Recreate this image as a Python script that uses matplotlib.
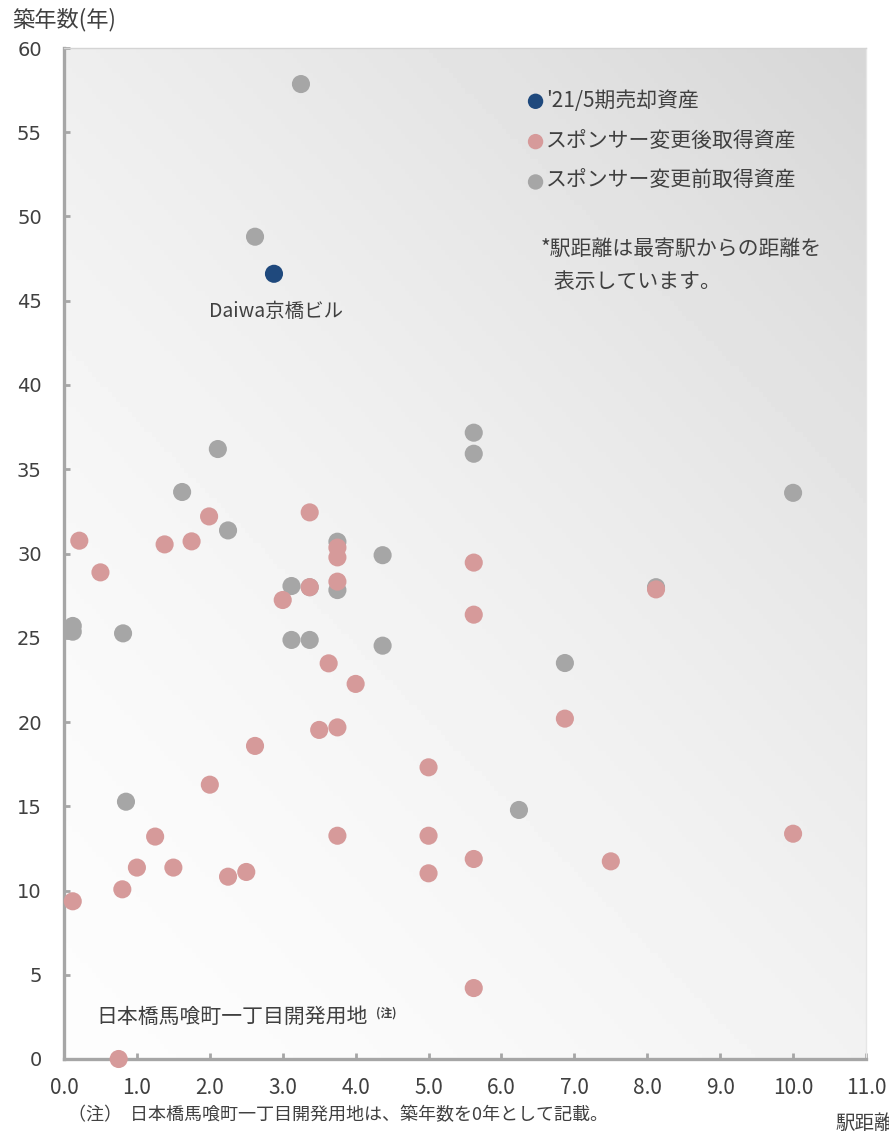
import matplotlib
matplotlib.use("Agg")
import matplotlib.pyplot as plt
import numpy as np

plt.rcParams['font.family'] = ['Noto Sans CJK JP', 'DejaVu Sans']

# Data (x: 駅距離, y: 築年数)
sold_x = [2.88]
sold_y = [46.6]

after_x = [0.21, 0.5, 1.38, 1.75, 1.99, 3.37, 3.75, 3.75, 3.75, 3.37, 3.0,
           5.62, 5.62, 3.63, 4.0, 3.5, 3.75, 2.62, 2.0, 5.0, 6.87, 8.12,
           10.0, 7.5, 5.62, 5.0, 5.0, 3.75, 1.25, 1.0, 1.5, 0.8, 2.25, 2.5,
           0.12, 5.62, 0.75]
after_y = [30.76, 28.88, 30.54, 30.72, 32.2, 32.44, 30.35, 29.77, 28.33, 28.0, 27.24,
           29.46, 26.37, 23.48, 22.26, 19.53, 19.68, 18.58, 16.28, 17.31, 20.2, 27.87,
           13.37, 11.73, 11.87, 13.25, 11.02, 13.25, 13.2, 11.36, 11.36, 10.07, 10.82, 11.1,
           9.36, 4.21, 0.0]

before_x = [3.25, 2.62, 2.11, 1.62, 2.25, 5.62, 5.62, 10.0, 3.75, 4.37, 3.12,
            3.37, 3.75, 3.12, 3.37, 4.37, 0.12, 0.12, 0.81, 8.12, 6.87, 0.85, 6.24]
before_y = [57.86, 48.8, 36.2, 33.65, 31.37, 37.17, 35.92, 33.6, 30.7, 29.9, 28.07,
            28.0, 27.83, 24.87, 24.87, 24.53, 25.7, 25.36, 25.26, 28.0, 23.5, 15.27, 14.78]

x_ticks = np.arange(0, 12, 1)
y_ticks = np.arange(0, 65, 5)

C_SOLD = '#1f497d'
C_AFTER = '#d69a9a'
C_BEFORE = '#a6a6a6'
C_TEXT = '#404040'
C_AXIS = '#a6a6a6'

fig = plt.figure(figsize=(8.89, 11.33), dpi=100)
ax = fig.add_axes([64 / 889, 1 - 1059 / 1133, 802 / 889, (1059 - 48) / 1133])

# background gradient: white lower-left to light gray upper-right
u, v = np.meshgrid(np.linspace(0, 1, 200), np.linspace(0, 1, 200))
s = 0.45 * u + 0.55 * v
grad = 0.99 - 0.15 * s ** 1.6
ax.imshow(grad, extent=[0, 1, 0, 1], transform=ax.transAxes, origin='lower',
          aspect='auto', cmap='gray', vmin=0, vmax=1, zorder=0)

ms = 170
ax.scatter(before_x, before_y, s=ms, color=C_BEFORE, edgecolors='none',
           label='スポンサー変更前取得資産', zorder=3, clip_on=False)
ax.scatter(after_x, after_y, s=ms, color=C_AFTER, edgecolors='none',
           label='スポンサー変更後取得資産', zorder=4, clip_on=False)
ax.scatter(sold_x, sold_y, s=ms, color=C_SOLD, edgecolors='none',
           label="'21/5期売却資産", zorder=5, clip_on=False)

ax.set_xlim(0, 11)
ax.set_ylim(0, 60)
ax.set_xticks(x_ticks)
ax.set_xticklabels([f'{t:.1f}' for t in x_ticks], fontsize=15)
ax.set_yticks(y_ticks)
ax.set_yticklabels([str(t) for t in y_ticks], fontsize=14, family='DejaVu Sans')
ax.tick_params(axis='both', direction='in', length=4, width=2, color=C_AXIS,
               labelcolor=C_TEXT)
ax.tick_params(axis='x', pad=13)
ax.tick_params(axis='y', pad=16)

for side in ['left', 'bottom']:
    ax.spines[side].set_color(C_AXIS)
    ax.spines[side].set_linewidth(2.4)
ax.spines['top'].set_color('#d4d4d4')
ax.spines['top'].set_linewidth(1)
ax.spines['right'].set_color('#e6e6e6')
ax.spines['right'].set_linewidth(1)

# legend (order: sold, after, before)
handles, labels = ax.get_legend_handles_labels()
order = [2, 1, 0]
leg = ax.legend([handles[i] for i in order], [labels[i] for i in order],
                loc='upper left', bbox_to_anchor=(0.562, 0.969), frameon=False,
                fontsize=15, handletextpad=0.0, handlelength=1.0, markerscale=0.85,
                labelspacing=0.88, borderpad=0)
for t in leg.get_texts():
    t.set_color(C_TEXT)

ax.text(0.594, 0.812, '*駅距離は最寄駅からの距離を\n   表示しています。',
        transform=ax.transAxes, fontsize=15, color=C_TEXT, ha='left', va='top',
        linespacing=1.65)

# point annotations
ax.annotate('Daiwa京橋ビル', xy=(sold_x[0], sold_y[0]), xytext=(1.5, -27),
            textcoords='offset points', ha='center', va='center',
            fontsize=14, color=C_TEXT)
ax.annotate('日本橋馬喰町一丁目開発用地', xy=(after_x[-1], after_y[-1]),
            xytext=(-16, 30), textcoords='offset points', ha='left', va='center',
            fontsize=15, color=C_TEXT)
ax.annotate('(注)', xy=(after_x[-1], after_y[-1]),
            xytext=(185, 33), textcoords='offset points', ha='left', va='center',
            fontsize=8.5, color=C_TEXT, fontweight='bold')

# axis titles and footnote
fig.text(12 / 889, 1 - 20 / 1133, '築年数(年)', fontsize=16, color=C_TEXT,
         ha='left', va='center')
fig.text(835 / 889, 1 - 1123 / 1133, '駅距離', fontsize=14, color=C_TEXT,
         ha='left', va='center')
fig.text(68 / 889, 1 - 1115 / 1133,
         '（注）  日本橋馬喰町一丁目開発用地は、築年数を0年として記載。',
         fontsize=13, color=C_TEXT, ha='left', va='center')

fig.savefig('out.png', dpi=100)
